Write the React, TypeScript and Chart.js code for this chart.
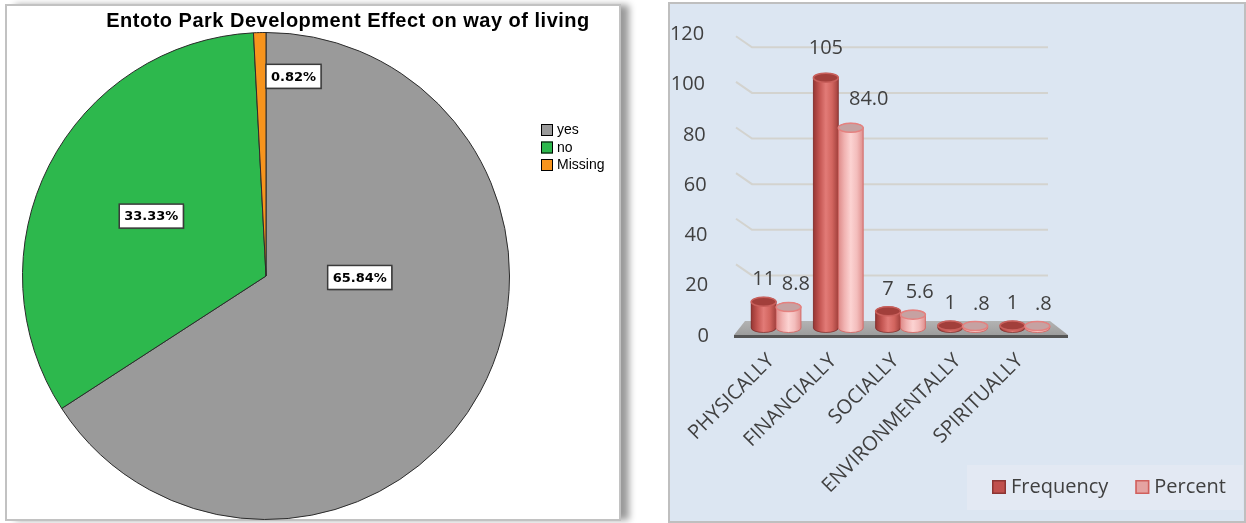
import React, { useEffect, useRef } from "react";
import { Chart, registerables } from "chart.js";

Chart.register(...registerables);

// ---------- Pie data ----------
const pieTitle = "Entoto Park Development Effect on way of living";
const pieLabels = ["yes", "no", "Missing"];
const pieValues = [65.84, 33.33, 0.82];
const pieValueLabels = ["65.84%", "33.33%", "0.82%"];

// ---------- Bar data ----------
const barCategories = ["PHYSICALLY", "FINANCIALLY", "SOCIALLY", "ENVIRONMENTALLY", "SPIRITUALLY"];
const seriesNames = ["Frequency", "Percent"];
const frequencyValues = [11, 105, 7, 1, 1];
const percentValues = [8.8, 84.0, 5.6, 0.8, 0.8];
const frequencyLabels = ["11", "105", "7", "1", "1"];
const percentLabels = ["8.8", "84.0", "5.6", ".8", ".8"];
const yTickValues = [0, 20, 40, 60, 80, 100, 120];
const yTickLabels = ["0", "20", "40", "60", "80", "100", "120"];

// ---------- styles ----------
const pieColors = ["#9a9a9a", "#2db84d", "#f7941d"];
const pieLabelPos = [
  [0.385, 0.006],
  [-0.471, -0.246],
  [0.113, -0.82],
];
const FONT = '"Open Sans", "DejaVu Sans", sans-serif';
const TEXT = "#404040";

const freqStyle = {
  base: "#c0504d",
  grad: ["#973633", "#c45652", "#e27b77", "#d2655f", "#a1403c"],
  cap: "#a23f3b",
  rim: "#c9605c",
  outline: "rgba(120,40,38,0.7)",
  swatch: "#c0504d",
  swatchBorder: "#8c3533",
};
const pctStyle = {
  base: "#f0b4b3",
  grad: ["#dd8a88", "#f1b3b2", "#fcd3d2", "#f3bdbc", "#df8f8d"],
  cap: "#c6a2a2",
  rim: "#e5817f",
  outline: "rgba(210,100,98,0.85)",
  swatch: "#e5a3a2",
  swatchBorder: "#d0605d",
};

const piePlugin = {
  id: "piePlugin",
  afterDraw(chart: any) {
    const ctx = chart.ctx;
    ctx.save();
    // title
    ctx.fillStyle = "#000";
    ctx.font = 'bold 20px "Liberation Sans", Arial, sans-serif';
    (ctx as any).letterSpacing = "0.5px";
    ctx.textAlign = "center";
    ctx.textBaseline = "middle";
    ctx.fillText(pieTitle, 348, 21);
    (ctx as any).letterSpacing = "0px";

    // value labels
    const meta = chart.getDatasetMeta(0);
    ctx.font = 'bold 13px "DejaVu Sans", sans-serif';
    meta.data.forEach((arc: any, i: number) => {
      const R = arc.outerRadius;
      const cx = arc.x + R * pieLabelPos[i][0];
      const cy = arc.y + R * pieLabelPos[i][1];
      const txt = pieValueLabels[i];
      const w = ctx.measureText(txt).width + 10;
      const h = 24;
      ctx.fillStyle = "rgba(0,0,0,0.25)";
      ctx.fillRect(cx - w / 2 + 1, cy - h / 2 + 1, w, h);
      ctx.fillStyle = "#fff";
      ctx.fillRect(cx - w / 2, cy - h / 2, w, h);
      ctx.strokeStyle = "#3a3a3a";
      ctx.lineWidth = 1.5;
      ctx.strokeRect(cx - w / 2, cy - h / 2, w, h);
      ctx.fillStyle = "#000";
      ctx.textAlign = "center";
      ctx.textBaseline = "middle";
      ctx.fillText(txt, cx, cy + 1);
    });

    // legend
    ctx.font = '14px "Liberation Sans", Arial, sans-serif';
    ctx.textAlign = "left";
    pieLabels.forEach((lab, i) => {
      const x = 541;
      const y = 124 + i * 17.5;
      ctx.fillStyle = pieColors[i];
      ctx.fillRect(x, y, 12, 12);
      ctx.strokeStyle = "#000";
      ctx.lineWidth = 1;
      ctx.strokeRect(x + 0.5, y + 0.5, 11, 11);
      ctx.fillStyle = "#000";
      ctx.textBaseline = "middle";
      ctx.fillText(lab, x + 16, y + 6.5);
    });
    ctx.restore();
  },
};

function drawCylinder(ctx: any, el: any, st: any) {
  const x = el.x;
  const rx = el.width / 2;
  const ry = 4.5;
  const left = x - rx;
  const right = x + rx;
  const top = el.y;
  const bottom = el.base;
  const g = ctx.createLinearGradient(left, 0, right, 0);
  const n = st.grad.length;
  st.grad.forEach((c: string, i: number) => g.addColorStop(i / (n - 1), c));
  ctx.beginPath();
  ctx.moveTo(left, top);
  ctx.lineTo(left, bottom);
  ctx.ellipse(x, bottom, rx, ry, 0, Math.PI, 0, true);
  ctx.lineTo(right, top);
  ctx.ellipse(x, top, rx, ry, 0, 0, Math.PI, true);
  ctx.closePath();
  ctx.fillStyle = g;
  ctx.fill();
  ctx.strokeStyle = st.outline;
  ctx.lineWidth = 1;
  ctx.stroke();
  // top cap
  ctx.beginPath();
  ctx.ellipse(x, top, rx, ry, 0, 0, Math.PI * 2);
  ctx.fillStyle = st.cap;
  ctx.fill();
  ctx.strokeStyle = st.rim;
  ctx.lineWidth = 1.5;
  ctx.stroke();
}

const bar3dPlugin = {
  id: "bar3d",
  beforeDatasetsDraw(chart: any) {
    const ctx = chart.ctx;
    const ys = chart.scales.y;
    const area = chart.chartArea;
    const p0 = ys.getPixelForValue(0);
    ctx.save();
    // back wall grid lines
    ctx.strokeStyle = "#d3d3cf";
    ctx.lineWidth = 2;
    yTickValues.forEach((v) => {
      if (v === 0) return;
      const yw = p0 - 7 - (p0 - ys.getPixelForValue(v)) * 0.957;
      ctx.beginPath();
      ctx.moveTo(area.left - 9, yw - 11);
      ctx.lineTo(area.left + 7, yw);
      ctx.lineTo(area.right - 8, yw);
      ctx.stroke();
    });
    // floor
    const ft = p0 - 7;
    const fb = p0 + 7;
    ctx.beginPath();
    ctx.moveTo(area.left, ft);
    ctx.lineTo(area.right - 6, ft);
    ctx.lineTo(area.right + 12, fb);
    ctx.lineTo(area.left - 11, fb);
    ctx.closePath();
    const fg = ctx.createLinearGradient(0, ft, 0, fb);
    fg.addColorStop(0, "#b3b3b3");
    fg.addColorStop(1, "#9d9d9d");
    ctx.fillStyle = fg;
    ctx.fill();
    ctx.strokeStyle = "#555";
    ctx.lineWidth = 3;
    ctx.beginPath();
    ctx.moveTo(area.left - 11, fb + 1.5);
    ctx.lineTo(area.right + 12, fb + 1.5);
    ctx.stroke();
    // y tick labels (perspective front edge)
    ctx.fillStyle = TEXT;
    ctx.font = `20px ${FONT}`;
    ctx.textAlign = "right";
    ctx.textBaseline = "middle";
    yTickValues.forEach((v, i) => {
      const py = p0 + 8 - (p0 - ys.getPixelForValue(v)) * 1.054;
      const px = area.left - 36 - v * 0.04;
      ctx.fillText(yTickLabels[i], px, py);
    });
    ctx.restore();
  },
  afterDatasetsDraw(chart: any) {
    const ctx = chart.ctx;
    ctx.save();
    const styles = [freqStyle, pctStyle];
    const labels = [frequencyLabels, percentLabels];
    chart.data.datasets.forEach((_: any, di: number) => {
      const meta = chart.getDatasetMeta(di);
      meta.data.forEach((el: any) => drawCylinder(ctx, el, styles[di]));
    });
    ctx.fillStyle = TEXT;
    ctx.font = `20px ${FONT}`;
    ctx.textAlign = "center";
    ctx.textBaseline = "middle";
    chart.data.datasets.forEach((_: any, di: number) => {
      const meta = chart.getDatasetMeta(di);
      meta.data.forEach((el: any, i: number) => {
        const h = el.base - el.y;
        const dy = 22 + 0.03 * h;
        const dx = di === 0 ? 0 : 6 + 0.06 * h;
        ctx.fillText(labels[di][i], el.x + dx, el.y - dy);
      });
    });
    ctx.restore();
  },
  afterDraw(chart: any) {
    const ctx = chart.ctx;
    ctx.save();
    // legend box
    const bx = 299;
    const by = 465;
    ctx.fillStyle = "#e3e9f3";
    ctx.fillRect(bx, by, 276, 45);
    ctx.font = `20px ${FONT}`;
    ctx.textBaseline = "middle";
    ctx.textAlign = "left";
    const sts = [freqStyle, pctStyle];
    let x = bx + 25;
    const cy = by + 22;
    seriesNames.forEach((name, i) => {
      ctx.fillStyle = sts[i].swatch;
      ctx.fillRect(x, cy - 7, 14, 14);
      ctx.strokeStyle = sts[i].swatchBorder;
      ctx.lineWidth = 1.5;
      ctx.strokeRect(x + 0.75, cy - 6.25, 12.5, 12.5);
      ctx.fillStyle = TEXT;
      ctx.fillText(name, x + 19, cy);
      x += 19 + ctx.measureText(name).width + 27;
    });
    ctx.restore();
  },
};

export default function App() {
  const pieRef = useRef<HTMLCanvasElement | null>(null);
  const barRef = useRef<HTMLCanvasElement | null>(null);

  useEffect(() => {
    const pie = new Chart(pieRef.current as HTMLCanvasElement, {
      type: "pie",
      data: {
        labels: pieLabels,
        datasets: [
          {
            data: pieValues,
            backgroundColor: pieColors,
            borderColor: "#2b2b2b",
            borderWidth: 1,
          },
        ],
      },
      options: {
        responsive: true,
        maintainAspectRatio: false,
        animation: false,
        layout: { padding: { left: 20, right: 118, top: 32, bottom: 3 } },
        plugins: {
          legend: { display: false },
          title: { display: false },
          tooltip: { enabled: false },
        },
      },
      plugins: [piePlugin],
    });

    const bar = new Chart(barRef.current as HTMLCanvasElement, {
      type: "bar",
      data: {
        labels: barCategories,
        datasets: [
          { label: seriesNames[0], data: frequencyValues, backgroundColor: freqStyle.base, borderWidth: 0 },
          { label: seriesNames[1], data: percentValues, backgroundColor: pctStyle.base, borderWidth: 0 },
        ],
      },
      options: {
        responsive: true,
        maintainAspectRatio: false,
        animation: false,
        layout: { padding: { left: 77, right: 190, top: 42, bottom: 0 } },
        datasets: { bar: { categoryPercentage: 0.8, barPercentage: 1 } },
        scales: {
          x: {
            grid: { display: false, drawTicks: false },
            border: { display: false },
            ticks: {
              minRotation: 45,
              maxRotation: 45,
              autoSkip: false,
              color: TEXT,
              font: { family: FONT, size: 20 },
              padding: 21,
              labelOffset: -5,
            },
            afterFit: (s: any) => {
              s.height = 195;
            },
          },
          y: { display: false, min: 0, max: 120 },
        },
        plugins: { legend: { display: false }, tooltip: { enabled: false } },
      },
      plugins: [bar3dPlugin],
    });

    return () => {
      pie.destroy();
      bar.destroy();
    };
  }, []);

  return (
    <div style={{ position: "absolute", left: 0, top: 0, width: 1246, height: 523, background: "#fff", overflow: "hidden" }}>
      <div
        style={{
          position: "absolute",
          left: 5,
          top: 4,
          width: 616,
          height: 517,
          boxSizing: "border-box",
          border: "2px solid #c2c2c2",
          background: "#fff",
          boxShadow: "9px 0 7px -1px rgba(0,0,0,0.4)",
        }}
      />
      <div
        style={{
          position: "absolute",
          left: 668,
          top: 2,
          width: 578,
          height: 521,
          boxSizing: "border-box",
          border: "2px solid #bfbfbf",
          background: "#dce6f2",
        }}
      />
      <div style={{ position: "absolute", left: 0, top: 0, width: 630, height: 523 }}>
        <canvas ref={pieRef} />
      </div>
      <div style={{ position: "absolute", left: 668, top: 0, width: 578, height: 523 }}>
        <canvas ref={barRef} />
      </div>
    </div>
  );
}
